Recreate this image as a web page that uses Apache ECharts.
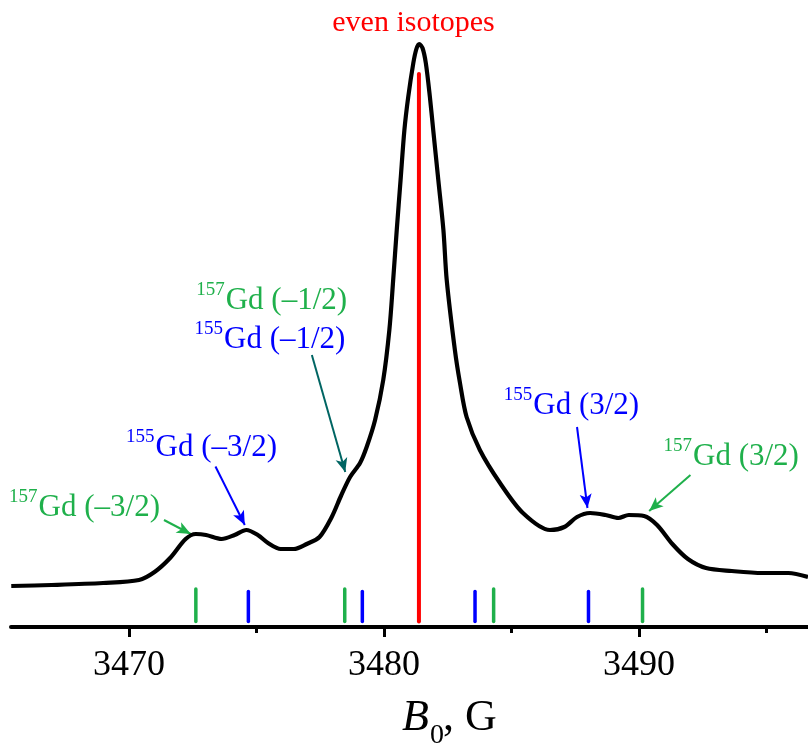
<!DOCTYPE html>
<html>
<head>
<meta charset="utf-8">
<script src="https://cdn.jsdelivr.net/npm/echarts@6/dist/echarts.min.js"></script>
<style>html,body{margin:0;padding:0;background:#fff}#c{width:808px;height:748px}</style>
</head>
<body>
<div id="c"></div>
<script>
// ---- data ----
const fieldB = [3465.38,3466.96,3468.98,3470.39,3471.00,3471.61,3472.22,3472.62,3473.02,3473.63,3474.14,3474.60,3475.05,3475.45,3475.95,3476.46,3476.97,3477.47,3477.95,3478.31,3478.67,3479.06,3479.32,3479.65,3479.97,3480.21,3480.36,3480.50,3480.65,3480.80,3480.95,3481.15,3481.27,3481.38,3481.51,3481.64,3481.80,3481.93,3482.13,3482.33,3482.46,3482.78,3482.98,3483.24,3483.76,3484.55,3485.45,3486.51,3487.07,3487.57,3488.08,3488.69,3489.19,3489.60,3490.20,3490.71,3491.31,3491.92,3492.63,3493.64,3494.85,3495.86,3496.63];
const intensity = [41,42,44,47,55,69,88,93,92,88,92,97,92,84,78,78,83,90,110,131,150,164,180,207,247,297,347,397,447,497,530,564,578,583,579,564,530,497,447,397,347,277,244,210,177,144,114,97,100,110,114,112,109,112,111,102,83,68,59,56,54,54,50];

const sticks157 = [3472.62, 3478.46, 3484.30, 3490.14];   // green
const sticks155 = [3474.68, 3479.15, 3483.57, 3488.02];   // blue
const stickEven = [3481.37];                               // red
const stick157Top = 38, stick155Top = 35.5, stickEvenTop = 553, stickBase = 5.5;

const majorTicks = [3470, 3480, 3490];
const minorTicks = [3475, 3485, 3495];

// annotation arrows [x1,y1,x2,y2] in data units
const arrowGreenM32 = [3471.37,107,3472.42,93];
const arrowBlueM32  = [3473.39,160.5,3474.54,102];
const arrowTealM12  = [3477.17,272,3478.48,155];
const arrowBlue32   = [3487.57,200,3487.98,119];
const arrowGreen32  = [3492.02,152,3490.40,116];

const GREEN = '#1fb04b', BLUE = '#0000ff', RED = '#ff0000', TEAL = '#006563';
const FONT = '"Liberation Serif","Times New Roman",serif';

const chart = echarts.init(document.getElementById('c'), null, {renderer:'canvas'});

function stickSeries(xs, top, color, width) {
  return xs.map(x => ({
    type: 'line', xAxisIndex: 0, yAxisIndex: 0, symbol: 'none', silent: true,
    data: [[x, stickBase], [x, top]],
    lineStyle: {color, width, cap: 'round'}, z: 3
  }));
}
function arrow(a, color) {
  return [{coord: [a[0], a[1]], lineStyle: {color}}, {coord: [a[2], a[3]], lineStyle: {color}}];
}

const series = [
  ...stickSeries(sticks157, stick157Top, GREEN, 3.5),
  ...stickSeries(sticks155, stick155Top, BLUE, 3.5),
  ...stickSeries(stickEven, stickEvenTop, RED, 4),
  {
    type: 'line', symbol: 'none', smooth: 0.3, silent: true,
    data: fieldB.map((x, i) => [x, intensity[i]]),
    lineStyle: {color: '#000', width: 4.2, join: 'round'}, z: 5,
    markLine: {
      silent: true, symbol: ['none', 'arrow'], symbolSize: [9, 14],
      label: {show: false},
      lineStyle: {type: 'solid', width: 2},
      data: [
        arrow(arrowGreenM32, GREEN),
        arrow(arrowBlueM32, BLUE),
        arrow(arrowTealM12, TEAL),
        arrow(arrowBlue32, BLUE),
        arrow(arrowGreen32, GREEN)
      ]
    }
  }
];

function label(sup, main, gx, cy, color) {
  return [
    {type:'text', x: gx - 1, y: cy - 11, style: {text: sup, fill: color, font: '19px ' + FONT, align: 'right', verticalAlign: 'middle'}, z: 10},
    {type:'text', x: gx, y: cy, style: {text: main, fill: color, font: '31px ' + FONT, align: 'left', verticalAlign: 'middle'}, z: 10}
  ];
}

const graphic = [
  {type:'text', x: 413.5, y: 23, style: {text: 'even isotopes', fill: RED, font: '30px ' + FONT, align: 'center', verticalAlign: 'middle'}, z: 10},
  ...label('157', 'Gd (\u20131/2)', 225.7, 301, GREEN),
  ...label('155', 'Gd (\u20131/2)', 224, 340, BLUE),
  ...label('155', 'Gd (\u20133/2)', 155.6, 448, BLUE),
  ...label('157', 'Gd (\u20133/2)', 38.6, 508, GREEN),
  ...label('155', 'Gd (3/2)', 533.3, 406, BLUE),
  ...label('157', 'Gd (3/2)', 693, 457, GREEN),
  {type:'text', x: 402, y: 718, style: {text: 'B', fill: '#000', font: 'italic 44px ' + FONT, align: 'left', verticalAlign: 'middle'}, z: 10},
  {type:'text', x: 430, y: 736, style: {text: '0', fill: '#000', font: '28px ' + FONT, align: 'left', verticalAlign: 'middle'}, z: 10},
  {type:'text', x: 443, y: 718, style: {text: ', G', fill: '#000', font: '44px ' + FONT, align: 'left', verticalAlign: 'middle'}, z: 10}
];

chart.setOption({
  animation: false,
  backgroundColor: '#fff',
  grid: {left: 11, right: 0, top: 0, bottom: 121, containLabel: false},
  xAxis: [
    {
      type: 'value', min: 3465.37, max: 3496.63, position: 'bottom',
      axisLine: {show: true, onZero: false, lineStyle: {color: '#000', width: 4}},
      axisTick: {show: true, customValues: majorTicks, length: 10, inside: false, lineStyle: {color: '#000', width: 3}},
      axisLabel: {show: true, customValues: majorTicks, margin: 21, color: '#000', fontSize: 36, fontFamily: FONT, formatter: v => String(v)},
      splitLine: {show: false}
    },
    {
      type: 'value', min: 3465.37, max: 3496.63, position: 'bottom',
      axisLine: {show: false, onZero: false},
      axisTick: {show: true, customValues: minorTicks, length: 6, lineStyle: {color: '#000', width: 3}},
      axisLabel: {show: false},
      splitLine: {show: false}
    }
  ],
  yAxis: {type: 'value', min: 0, max: 627, show: false, splitLine: {show: false}},
  series,
  graphic
});
</script>
</body>
</html>
